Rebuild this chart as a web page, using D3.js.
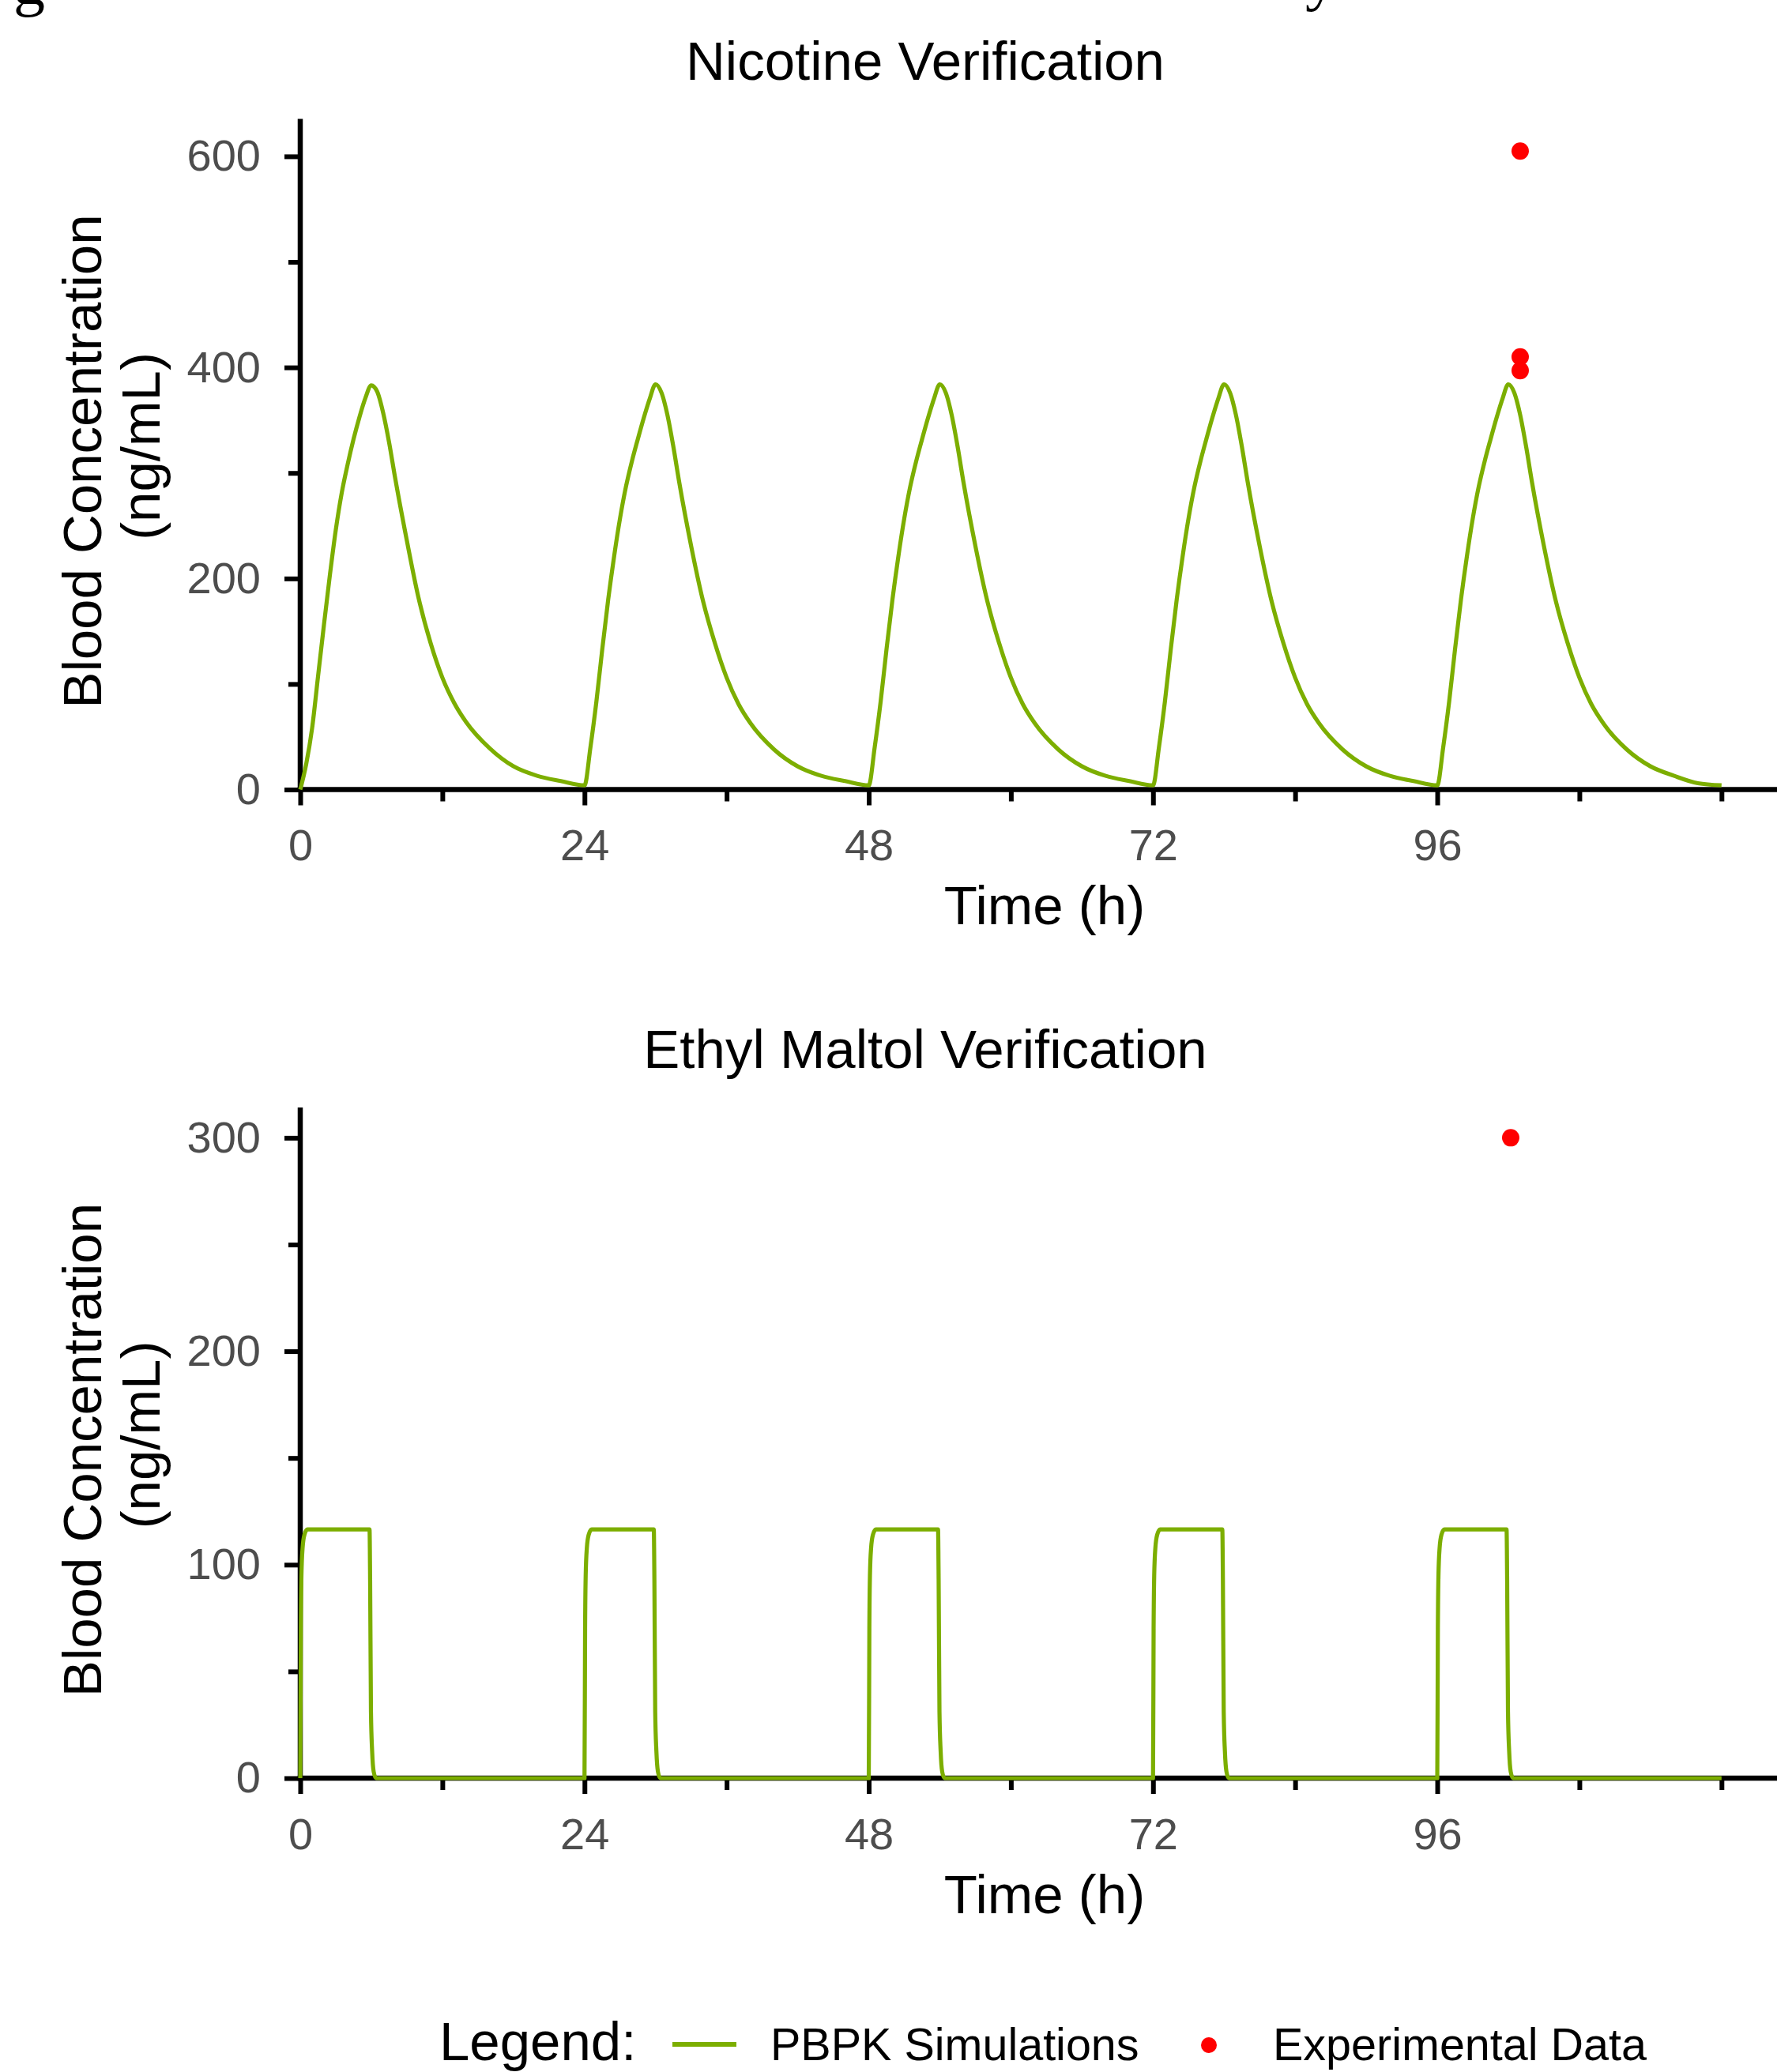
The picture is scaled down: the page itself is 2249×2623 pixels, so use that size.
<!DOCTYPE html>
<html lang="en">
<head>
<meta charset="UTF-8">
<title>Nicotine and Ethyl Maltol Verification</title>
<script src="https://d3js.org/d3.v7.min.js"></script>
<style>
  html, body { margin: 0; padding: 0; background: #fff; }
  svg { display: block; background: #fff; font-family: "Liberation Sans", Arial, sans-serif; }
  .axis-line { stroke: #000; stroke-width: 6.5px; }
  .tick line { stroke: #000; stroke-width: 6px; }
  .tick text { fill: #4d4d4d; font-size: 56px; font-family: "Liberation Sans", Arial, sans-serif; }
  .sim { fill: none; stroke: #7CAE00; stroke-width: 5.2px; stroke-linejoin: round; }
  .obs { fill: #ff0000; }
  .title { font-size: 69px; fill: #000; }
  .axis-title { font-size: 69px; fill: #000; }
  .legend text { fill: #000; font-size: 57.5px; }
  .caption { font-family: "Liberation Serif", "Times New Roman", serif; font-size: 80px; fill: #000; }
</style>
</head>
<body>
<svg id="chart" width="2249" height="2623"></svg>
<script>
// ---- data ----
const nicTime = [
  0, 0.5, 1, 1.5, 2, 2.5, 3, 3.5, 4, 4.5, 5, 5.5, 6, 6.5, 7, 7.5, 8, 9, 10, 11, 12, 13, 14, 16, 18, 20, 22,
  24, 24.5, 25, 25.5, 26, 26.5, 27, 27.5, 28, 28.5, 29, 29.5, 30, 30.5, 31, 31.5, 32, 33, 34, 35, 36, 37, 38, 40, 42, 44, 46,
  48, 48.5, 49, 49.5, 50, 50.5, 51, 51.5, 52, 52.5, 53, 53.5, 54, 54.5, 55, 55.5, 56, 57, 58, 59, 60, 61, 62, 64, 66, 68, 70,
  72, 72.5, 73, 73.5, 74, 74.5, 75, 75.5, 76, 76.5, 77, 77.5, 78, 78.5, 79, 79.5, 80, 81, 82, 83, 84, 85, 86, 88, 90, 92, 94,
  96, 96.5, 97, 97.5, 98, 98.5, 99, 99.5, 100, 100.5, 101, 101.5, 102, 102.5, 103, 103.5, 104, 105, 106, 107, 108, 109, 110, 112, 114, 116, 118, 120
];
const nicConc = [
  0, 24, 58, 107, 156, 203, 246, 281, 308, 332, 353, 371, 383, 377, 357, 329, 296, 236, 181, 139, 106, 82, 64, 39, 22, 13, 8,
  4, 40, 83, 133, 180, 221, 257, 287, 311, 332, 352, 370, 384, 376, 355, 325, 291, 231, 179, 139, 106, 81, 63, 38, 22, 13, 8,
  4, 40, 83, 133, 180, 221, 257, 287, 311, 332, 352, 370, 384, 376, 355, 325, 291, 231, 179, 139, 106, 81, 63, 38, 22, 13, 8,
  4, 40, 83, 133, 180, 221, 257, 287, 311, 332, 352, 370, 384, 376, 355, 325, 291, 231, 179, 139, 106, 81, 63, 38, 22, 13, 8,
  4, 40, 83, 133, 180, 221, 257, 287, 311, 332, 352, 370, 384, 376, 355, 325, 291, 231, 179, 139, 106, 81, 63, 38, 22, 13, 6, 4
];
const nicObsTime = [103, 103, 103];
const nicObsConc = [605, 410, 397];

const emTime = [
  0, 0.05, 0.1, 0.2, 0.35, 0.6, 5.85, 5.9, 5.97, 6.07, 6.2, 6.4,
  24, 24.05, 24.1, 24.2, 24.35, 24.6, 29.85, 29.9, 29.97, 30.07, 30.2, 30.4,
  48, 48.05, 48.1, 48.2, 48.35, 48.6, 53.85, 53.9, 53.97, 54.07, 54.2, 54.4,
  72, 72.05, 72.1, 72.2, 72.35, 72.6, 77.85, 77.9, 77.97, 78.07, 78.2, 78.4,
  96, 96.05, 96.1, 96.2, 96.35, 96.6, 101.85, 101.9, 101.97, 102.07, 102.2, 102.4,
  120
];
const emConc = [
  0, 70, 95, 108, 114, 116.5, 116.5, 93, 31, 12.5, 3, 0,
  0, 70, 95, 108, 114, 116.5, 116.5, 93, 31, 12.5, 3, 0,
  0, 70, 95, 108, 114, 116.5, 116.5, 93, 31, 12.5, 3, 0,
  0, 70, 95, 108, 114, 116.5, 116.5, 93, 31, 12.5, 3, 0,
  0, 70, 95, 108, 114, 116.5, 116.5, 93, 31, 12.5, 3, 0,
  0
];
const emObsTime = [102.2];
const emObsConc = [300];

const xMajor = [0, 24, 48, 72, 96];
const xMinor = [12, 36, 60, 84, 108, 120];
const nicYMajor = [0, 200, 400, 600];
const nicYMinor = [100, 300, 500];
const emYMajor = [0, 100, 200, 300];
const emYMinor = [50, 150, 250];

// ---- layout ----
const W = 2249;
const panelH = 849;
const x0 = 380, pxPerHour = 14.99;

const svg = d3.select("#chart");

// cut-off caption fragments at the very top of the crop
svg.append("text").attr("class", "caption").attr("x", 17).attr("y", 5).text("g");
svg.append("text").attr("class", "caption").attr("x", 1652).attr("y", -2).text("y");

const x = d3.scaleLinear().domain([0, 126]).range([x0, x0 + 126 * pxPerHour]);
const line = d3.line().x(d => x(d[0])).y(d => d[1]).curve(d3.curveMonotoneX);

function drawPanel(p) {
  const g = svg.append("g");
  const y = d3.scaleLinear().domain([0, p.yMax]).range([p.top + panelH, p.top]);
  const yBottom = y(0);
  const yMid = p.top + panelH / 2;

  g.append("text").attr("class", "title")
    .attr("x", 1171).attr("y", p.top - 50)
    .attr("text-anchor", "middle")
    .text(p.title);

  // ticks (major with labels, minor without)
  const strip = s => s.select(".domain").remove();
  g.append("g").attr("transform", `translate(0,${yBottom})`)
    .call(d3.axisBottom(x).tickValues(xMajor).tickSize(20).tickPadding(30).tickFormat(d3.format("d")))
    .call(strip);
  g.append("g").attr("transform", `translate(0,${yBottom})`)
    .call(d3.axisBottom(x).tickValues(xMinor).tickSize(15).tickFormat(""))
    .call(strip);
  g.append("g").attr("transform", `translate(${x0},0)`)
    .call(d3.axisLeft(y).tickValues(p.yMajor).tickSize(20).tickPadding(30).tickFormat(d3.format("d")))
    .call(strip);
  g.append("g").attr("transform", `translate(${x0},0)`)
    .call(d3.axisLeft(y).tickValues(p.yMinor).tickSize(15).tickFormat(""))
    .call(strip);

  // axis lines
  g.append("line").attr("class", "axis-line")
    .attr("x1", x0 - 3.25).attr("x2", W).attr("y1", yBottom).attr("y2", yBottom);
  g.append("line").attr("class", "axis-line")
    .attr("x1", x0).attr("x2", x0).attr("y1", yBottom + 3.25).attr("y2", y(p.yMax));

  // simulation line
  const pts = p.time.map((t, i) => [t, y(p.conc[i])]);
  g.append("path").attr("class", "sim").attr("d", line(pts));

  // observations
  g.selectAll("circle.obs")
    .data(p.obsTime.map((t, i) => [t, p.obsConc[i]]))
    .join("circle").attr("class", "obs")
    .attr("cx", d => x(d[0])).attr("cy", d => y(d[1])).attr("r", 11);

  // axis titles
  g.append("text").attr("class", "axis-title")
    .attr("x", 1322).attr("y", yBottom + 170.5)
    .attr("text-anchor", "middle").text("Time (h)");
  g.append("text").attr("class", "axis-title")
    .attr("transform", `translate(128,${yMid + 9}) rotate(-90)`)
    .attr("text-anchor", "middle").text("Blood Concentration");
  g.append("text").attr("class", "axis-title")
    .attr("transform", `translate(202,${yMid - 10}) rotate(-90)`)
    .attr("text-anchor", "middle").text("(ng/mL)");
}

drawPanel({
  title: "Nicotine Verification", top: 150.5, yMax: 635.5,
  yMajor: nicYMajor, yMinor: nicYMinor,
  time: nicTime, conc: nicConc, obsTime: nicObsTime, obsConc: nicObsConc
});
drawPanel({
  title: "Ethyl Maltol Verification", top: 1402, yMax: 314.2,
  yMajor: emYMajor, yMinor: emYMinor,
  time: emTime, conc: emConc, obsTime: emObsTime, obsConc: emObsConc
});

// legend
const leg = svg.append("g").attr("class", "legend");
leg.append("text").attr("x", 556).attr("y", 2608).style("font-size", "69px").text("Legend:");
leg.append("line").attr("x1", 851).attr("x2", 932).attr("y1", 2588).attr("y2", 2588)
  .attr("stroke", "#7CAE00").attr("stroke-width", 6);
leg.append("text").attr("x", 975).attr("y", 2608).text("PBPK Simulations");
leg.append("circle").attr("cx", 1530).attr("cy", 2589).attr("r", 10).attr("fill", "#ff0000");
leg.append("text").attr("x", 1611).attr("y", 2608).text("Experimental Data");
</script>
</body>
</html>
